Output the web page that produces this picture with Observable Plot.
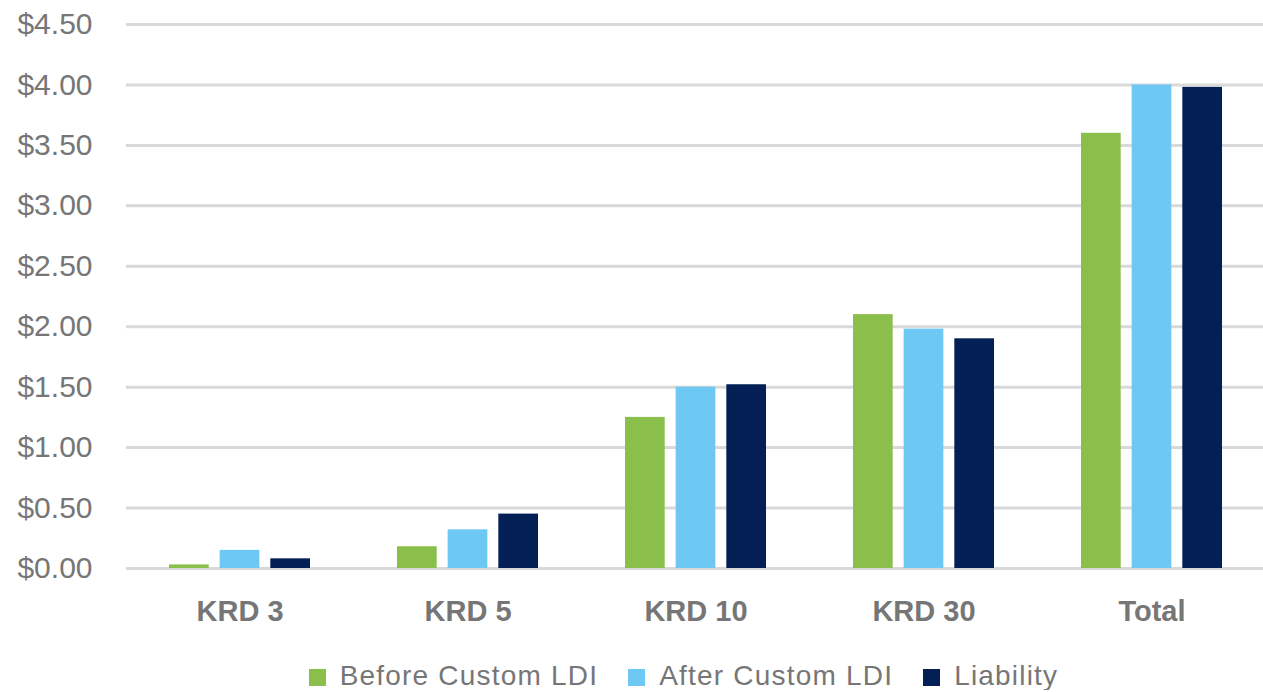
<!DOCTYPE html>
<html>
<head>
<meta charset="utf-8">
<script src="https://cdn.jsdelivr.net/npm/d3@7"></script>
<script src="https://cdn.jsdelivr.net/npm/@observablehq/plot@0.6"></script>
<style>
  html, body { margin: 0; padding: 0; background: #fff; }
  #chart { width: 1263px; font-family: "Liberation Sans", Arial, sans-serif; color: #767676; }
  .legend { display: flex; justify-content: center; align-items: center; margin-top: 22px; padding-left: 104px;
            font-size: 28px; line-height: 28px; letter-spacing: 1.2px; color: #767676; }
  .legend .item { display: flex; align-items: center; margin: 0 15px; }
  .legend .sw { width: 17px; height: 17px; margin-right: 14px; margin-top: 3px; }
</style>
</head>
<body>
<div id="chart"></div>
<script>
const categories = ["KRD 3", "KRD 5", "KRD 10", "KRD 30", "Total"];
const seriesNames = ["Before Custom LDI", "After Custom LDI", "Liability"];
const seriesColors = ["#8bbf4b", "#6dc8f3", "#031f56"];
const beforeValues = [0.03, 0.18, 1.25, 2.10, 3.60];
const afterValues = [0.15, 0.32, 1.50, 1.98, 4.00];
const liabilityValues = [0.08, 0.45, 1.52, 1.90, 3.98];
const yTicks = [0, 0.5, 1, 1.5, 2, 2.5, 3, 3.5, 4, 4.5];

const allValues = [beforeValues, afterValues, liabilityValues];
const data = [];
seriesNames.forEach((s, si) => categories.forEach((c, ci) => data.push({category: c, series: s, value: allValues[si][ci]})));

const W = 1263, ML = 126, MR = 0;
const pIn = 0.38, pOut = 0.179;
const step = (W - ML - MR) / (categories.length - pIn + 2 * pOut);
const band = step * (1 - pIn);
const barW = 40.3;
const gap = (band - 3 * barW) / 2;

const bars = seriesNames.map((s, i) => Plot.barY(data.filter(d => d.series === s), {
  x: "category", y: "value", fill: "series",
  insetLeft: i * (barW + gap), insetRight: (2 - i) * (barW + gap)
}));

const plot = Plot.plot({
  width: W, height: 640,
  marginLeft: ML, marginRight: MR, marginTop: 24, marginBottom: 72,
  style: {fontFamily: "'Liberation Sans', Arial, sans-serif", color: "#767676", background: "#fff"},
  x: {domain: categories, paddingInner: pIn, paddingOuter: pOut, align: 0.52, label: null},
  y: {domain: [0, 4.5], label: null},
  color: {domain: seriesNames, range: seriesColors},
  marks: [
    Plot.ruleY(yTicks, {stroke: "#d9d9d9", strokeWidth: 3}),
    ...bars,
    Plot.axisY(yTicks, {tickSize: 0, tickPadding: 34, fontSize: 30, tickFormat: d => "$" + d.toFixed(2), label: null}),
    Plot.axisX({tickSize: 0, tickPadding: 32, fontSize: 29, fontWeight: "bold", label: null})
  ]
});

const root = document.getElementById("chart");
root.appendChild(plot);
const legend = document.createElement("div");
legend.className = "legend";
seriesNames.forEach((s, i) => {
  const item = document.createElement("div");
  item.className = "item";
  const sw = document.createElement("span");
  sw.className = "sw";
  sw.style.background = seriesColors[i];
  const t = document.createElement("span");
  t.textContent = s;
  item.appendChild(sw); item.appendChild(t);
  legend.appendChild(item);
});
root.appendChild(legend);
</script>
</body>
</html>
